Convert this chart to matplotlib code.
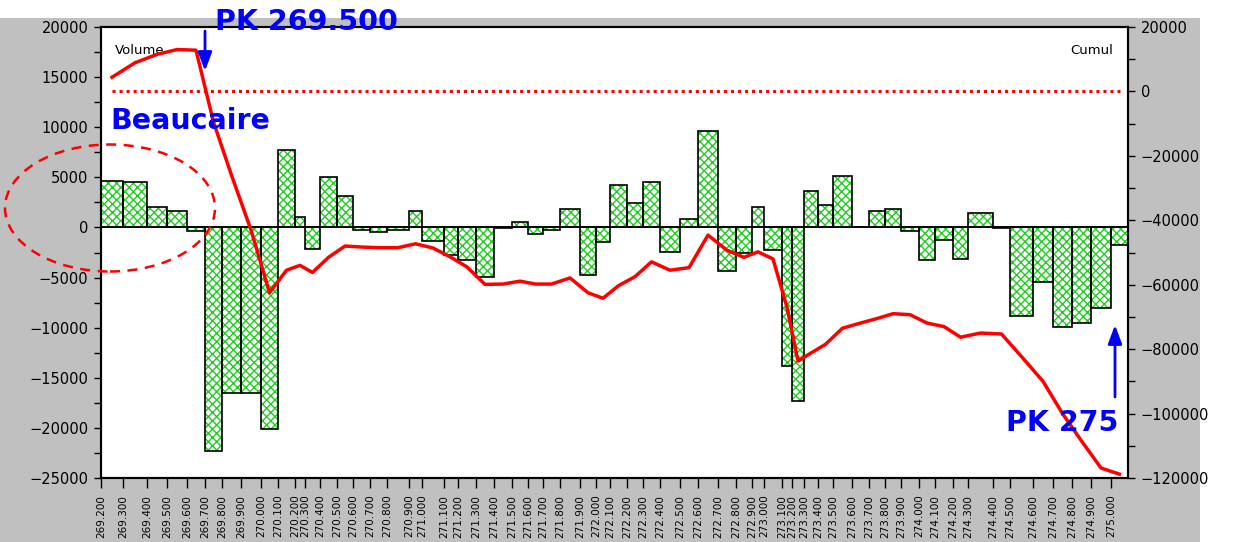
import matplotlib
matplotlib.use('Agg')
import matplotlib.pyplot as plt
from matplotlib.patches import Ellipse, Rectangle, FancyArrowPatch
from matplotlib.ticker import MultipleLocator
import numpy as np

# Profiles (PK) along the river, and their abscissa
pk_labels = ["269.200", "269.300", "269.400", "269.500", "269.600", "269.700",
             "269.800", "269.900", "270.000", "270.100", "270.200", "270.300",
             "270.400", "270.500", "270.600", "270.700", "270.800", "270.900",
             "271.000", "271.100", "271.200", "271.300", "271.400", "271.500",
             "271.600", "271.700", "271.800", "271.900", "272.000", "272.100",
             "272.200", "272.300", "272.400", "272.500", "272.600", "272.700",
             "272.800", "272.900", "273.000", "273.100", "273.200", "273.300",
             "273.400", "273.500", "273.600", "273.700", "273.800", "273.900",
             "274.000", "274.100", "274.200", "274.300", "274.400", "274.500",
             "274.600", "274.700", "274.800", "274.900", "275.000"]

# bar edges (chart units), one per profile + end of last bar
x_edges = [0, 22, 46, 66, 86, 104, 121, 140, 160, 177,
           194, 204, 219, 236, 252, 269, 286, 308, 321, 343,
           357, 375, 393, 411, 427, 442, 459, 479, 495, 509,
           526, 542, 559, 579, 597, 617, 635, 651, 663, 681,
           691, 703, 717, 732, 751, 768, 784, 800, 818, 834,
           852, 867, 892, 909, 932, 952, 971, 990, 1010, 1027]

# volume per section
volumes = [4600, 4500, 2000, 1650, -350, -22300, -16500, -16500, -20100, 7700,
           1050, -2200, 5050, 3150, -300, -500, -300, 1600, -1350, -2750,
           -3200, -4950, -100, 500, -650, -250, 1800, -4700, -1450, 4200,
           2400, 4500, -2450, 800, 9650, -4350, -2500, 2000, -2300, -13800,
           -17350, 3600, 2250, 5100, 0, 1650, 1800, -350, -3200, -1250,
           -3100, 1400, -100, -8800, -5400, -9950, -9500, -8000, -1750]

# cumulated volume (right axis)
cumul = [4400, 8900, 11500, 13000, 12800, -9500, -26000, -43000, -62500, -55500,
         -54000, -56200, -51500, -48000, -48300, -48500, -48500, -47300, -48600, -51500,
         -54500, -59900, -59800, -58900, -59800, -59800, -57900, -62500, -64200, -60300,
         -57500, -52900, -55500, -54700, -44600, -49300, -51500, -49800, -52000, -67000,
         -83700, -81200, -78500, -73500, -71900, -70500, -69000, -69300, -71900, -73000,
         -76300, -75000, -75300, -82300, -90000, -100000, -108500, -116900, -118800]

W, H = 1236, 542

def fx(x):
    return x / W

def fy(y):
    return 1 - y / H

plt.rcParams['hatch.linewidth'] = 1.0

fig = plt.figure(figsize=(W / 100, H / 100), dpi=100)
fig.patch.set_facecolor('white')
fig.add_artist(Rectangle((0, 0), fx(1200), fy(18), transform=fig.transFigure,
                         facecolor='#c0c0c0', edgecolor='none', zorder=-5))

ax = fig.add_axes([fx(101), fy(478), (1128 - 101) / W, (478 - 27) / H])
ax.set_facecolor('white')

edges = np.array(x_edges, dtype=float)
left = edges[:-1]
widths = np.diff(edges)
centers = left + widths / 2

# hatched bars: green hatch, then black outline
ax.bar(left, volumes, width=widths, align='edge', color='white',
       edgecolor='#22cc22', hatch='xxxx', linewidth=0, zorder=2)
ax.bar(left, volumes, width=widths, align='edge', color='none',
       edgecolor='black', linewidth=1.2, zorder=3)
ax.axhline(0, color='black', lw=1.2, zorder=3)

ax.set_xlim(edges[0], edges[-1])
ax.set_ylim(-25000, 20000)
ax.yaxis.set_major_locator(MultipleLocator(5000))
ax.yaxis.set_minor_locator(MultipleLocator(2500))
ax.set_xticks(left)
ax.set_xticklabels(pk_labels, rotation=90, fontsize=7.5, va='top', ha='center')
ax.tick_params(axis='x', length=7, width=1, pad=5)
ax.tick_params(axis='y', which='both', length=5, width=1, labelsize=10.5, pad=4)

ax2 = ax.twinx()
ax2.set_ylim(-120000, 20000)
ax2.yaxis.set_major_locator(MultipleLocator(20000))
ax2.yaxis.set_minor_locator(MultipleLocator(10000))
ax2.tick_params(axis='y', which='both', length=5, width=1, labelsize=10.5, pad=4)
ax2.hlines(0, centers[0], centers[-1], colors='red', linestyles=(0, (1, 1.3)), lw=2.2)
ax2.plot(centers, cumul, color='red', lw=2.5)

for a in (ax, ax2):
    for s in a.spines.values():
        s.set_linewidth(1.5)
        s.set_color('black')

ax.text(0.0136, 0.949, 'Volume', transform=ax.transAxes, fontsize=9.5, va='center', ha='left')
ax.text(0.9854, 0.949, 'Cumul', transform=ax.transAxes, fontsize=9.5, va='center', ha='right')

# annotations
blue = '#0000ff'
fig.text(fx(215), fy(22), 'PK 269.500', color=blue, fontsize=20.5, fontweight='bold',
         va='center', ha='left', zorder=10)
fig.text(fx(110), fy(121), 'Beaucaire', color=blue, fontsize=20.5, fontweight='bold',
         va='center', ha='left', zorder=10)
fig.text(fx(1118), fy(423), 'PK 275', color=blue, fontsize=20.5, fontweight='bold',
         va='center', ha='right', zorder=10)

for p0, p1 in [((205, 31), (205, 71)), ((1115, 397), (1115, 325))]:
    fig.add_artist(FancyArrowPatch((fx(p0[0]), fy(p0[1])), (fx(p1[0]), fy(p1[1])),
                                   transform=fig.transFigure,
                                   arrowstyle='-|>,head_length=0.8,head_width=0.3',
                                   mutation_scale=14, color=blue, lw=2,
                                   shrinkA=0, shrinkB=0, zorder=10))

fig.add_artist(Ellipse((fx(110), fy(208)), 210 / W, 127 / H, transform=fig.transFigure,
                       fill=False, edgecolor='red', ls=(0, (4, 3)), lw=1.8, zorder=10))

fig.savefig('out.png', dpi=100)
